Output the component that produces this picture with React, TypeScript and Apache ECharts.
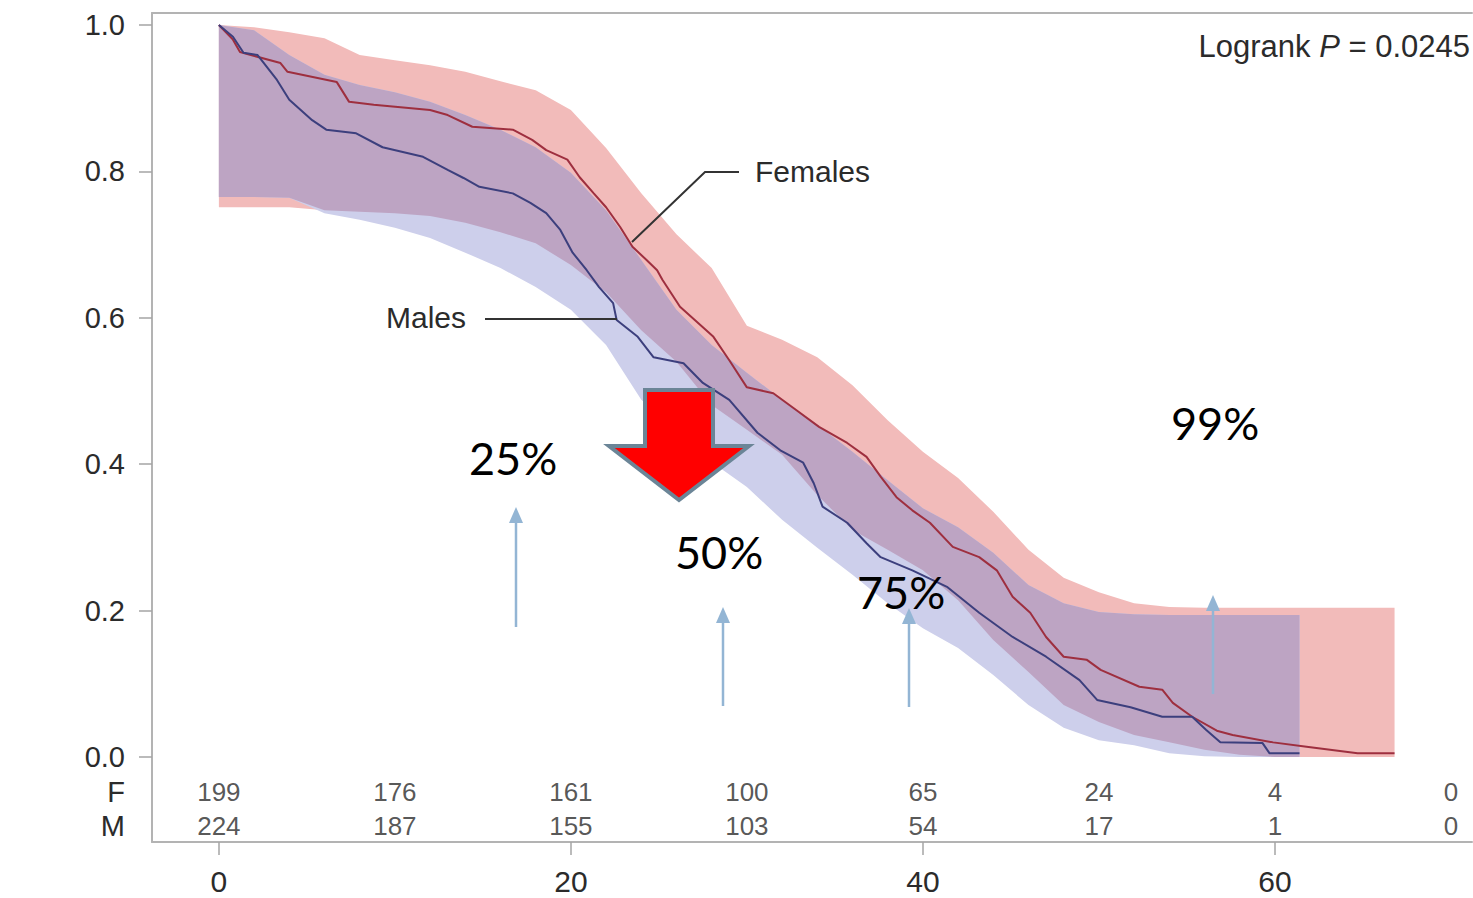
import React, { useEffect, useRef } from "react";
import * as echarts from "echarts";

// ---- data ----
const X_TICKS = [0, 20, 40, 60];
const Y_TICKS = [0, 0.2, 0.4, 0.6, 0.8, 1.0];

// confidence bands on a common time grid (months)
const BAND_T = [0, 2, 4, 6, 8, 10, 12, 14, 16, 18, 20, 22, 24, 26, 28, 30, 32, 34, 36, 38, 40, 42, 44, 46, 48, 50, 52, 54, 56, 58, 60, 61.4, 62, 64, 66, 66.8];
const F_UPPER = [1.0, 0.997, 0.99, 0.982, 0.959, 0.952, 0.945, 0.936, 0.923, 0.911, 0.884, 0.832, 0.77, 0.714, 0.668, 0.589, 0.57, 0.546, 0.508, 0.46, 0.417, 0.381, 0.335, 0.283, 0.245, 0.225, 0.21, 0.205, 0.204, 0.204, 0.204, 0.204, 0.204, 0.204, 0.204, 0.204];
const F_LOWER = [0.751, 0.751, 0.751, 0.747, 0.745, 0.743, 0.739, 0.73, 0.717, 0.702, 0.672, 0.635, 0.583, 0.54, 0.481, 0.447, 0.413, 0.358, 0.31, 0.283, 0.255, 0.214, 0.16, 0.116, 0.071, 0.048, 0.03, 0.02, 0.01, 0.003, 0, 0, 0, 0, 0, 0];
const M_UPPER = [1.0, 0.993, 0.959, 0.932, 0.918, 0.908, 0.895, 0.877, 0.857, 0.833, 0.798, 0.747, 0.679, 0.611, 0.563, 0.525, 0.488, 0.454, 0.417, 0.378, 0.34, 0.314, 0.279, 0.235, 0.21, 0.198, 0.195, 0.194, 0.194, 0.194, 0.194, 0.194];
const M_LOWER = [0.765, 0.765, 0.764, 0.743, 0.734, 0.723, 0.709, 0.689, 0.668, 0.642, 0.611, 0.563, 0.488, 0.447, 0.403, 0.369, 0.324, 0.286, 0.249, 0.21, 0.176, 0.149, 0.112, 0.071, 0.04, 0.023, 0.016, 0.005, 0.001, 0, 0, 0];

// survival curves
const F_T = [0, 0.8, 1.2, 3.5, 3.9, 6.7, 7.4, 8.8, 12.0, 13.0, 14.4, 16.7, 17.8, 18.6, 19.8, 20.5, 21.3, 22.0, 22.8, 23.5, 24.3, 24.9, 25.2, 26.2, 27.5, 28.1, 29.0, 30.0, 31.5, 32.8, 34.1, 35.7, 36.8, 37.6, 38.5, 39.4, 40.4, 41.7, 43.2, 44.2, 45.1, 46.1, 47.0, 48.0, 49.3, 50.1, 52.3, 53.6, 54.2, 55.3, 56.7, 57.6, 59.9, 61.8, 64.7, 66.8];
const F_S = [1.0, 0.98, 0.963, 0.948, 0.936, 0.922, 0.895, 0.891, 0.884, 0.877, 0.861, 0.857, 0.843, 0.829, 0.816, 0.792, 0.77, 0.751, 0.724, 0.697, 0.679, 0.665, 0.652, 0.615, 0.587, 0.574, 0.542, 0.505, 0.497, 0.474, 0.451, 0.429, 0.41, 0.383, 0.355, 0.337, 0.32, 0.287, 0.273, 0.255, 0.219, 0.197, 0.164, 0.137, 0.133, 0.119, 0.096, 0.092, 0.074, 0.055, 0.036, 0.03, 0.02, 0.014, 0.005, 0.005];
const M_T = [0, 0.8, 1.4, 2.2, 3.3, 4.0, 5.3, 6.1, 7.8, 9.3, 11.6, 13.0, 13.9, 14.8, 16.7, 17.7, 18.6, 19.4, 20.1, 20.9, 21.6, 22.4, 22.6, 23.8, 24.7, 26.4, 27.5, 29.0, 30.6, 31.9, 33.2, 33.8, 34.3, 35.7, 36.8, 37.6, 39.4, 41.4, 43.2, 45.1, 47.0, 48.9, 49.9, 51.8, 53.6, 55.3, 56.1, 56.9, 59.3, 59.7, 61.4];
const M_S = [1.0, 0.984, 0.962, 0.959, 0.925, 0.898, 0.87, 0.857, 0.852, 0.833, 0.82, 0.802, 0.791, 0.779, 0.77, 0.757, 0.743, 0.72, 0.689, 0.665, 0.642, 0.62, 0.597, 0.574, 0.546, 0.538, 0.511, 0.488, 0.443, 0.419, 0.402, 0.374, 0.342, 0.32, 0.292, 0.273, 0.255, 0.232, 0.197, 0.164, 0.137, 0.105, 0.078, 0.068, 0.055, 0.055, 0.037, 0.02, 0.019, 0.005, 0.005];

// number at risk
const RISK_T = [0, 10, 20, 30, 40, 50, 60, 70];
const RISK_F = [199, 176, 161, 100, 65, 24, 4, 0];
const RISK_M = [224, 187, 155, 103, 54, 17, 1, 0];
const ROW_F = -0.048;
const ROW_M = -0.094;

const SANS = "Liberation Sans";
const TXT = "#2b2b2b";

function bandSeries(times: number[], upper: number[], lower: number[], fill: string) {
  return {
    type: "custom",
    silent: true,
    z: 1,
    data: [[0, 0]],
    renderItem: (_p: any, api: any) => {
      const pts: number[][] = [];
      for (let i = 0; i < times.length; i++) pts.push(api.coord([times[i], upper[i]]));
      for (let i = times.length - 1; i >= 0; i--) pts.push(api.coord([times[i], lower[i]]));
      return { type: "polygon", shape: { points: pts }, style: { fill } };
    },
  };
}

function blueArrow(x: number, tip: number, bottom: number) {
  const c = "#93b5d4";
  return [
    { type: "line", z: 20, shape: { x1: x, y1: tip + 12, x2: x, y2: bottom }, style: { stroke: c, lineWidth: 2.5 } },
    { type: "polygon", z: 20, shape: { points: [[x - 7, tip + 16], [x, tip], [x + 7, tip + 16]] }, style: { fill: c } },
  ];
}

function pct(text: string, x: number, y: number) {
  return {
    type: "text",
    z: 20,
    x,
    y,
    style: {
      text,
      fontSize: 45,
      fontFamily: "Lato",
      fill: "#000",
      align: "left",
      verticalAlign: "middle",
      textAlign: "left",
      textVerticalAlign: "middle",
    },
  };
}

export default function App() {
  const ref = useRef<HTMLDivElement>(null);
  useEffect(() => {
    document.body.style.margin = "0";
    if (!ref.current) return;
    const chart = echarts.init(ref.current, null, { renderer: "svg" });

    const mTimes = BAND_T.slice(0, M_UPPER.length);
    const oUpper: number[] = [];
    const oLower: number[] = [];
    for (let i = 0; i < mTimes.length; i++) {
      const lo = Math.max(F_LOWER[i], M_LOWER[i]);
      const hi = Math.max(Math.min(F_UPPER[i], M_UPPER[i]), lo);
      oUpper.push(hi);
      oLower.push(lo);
    }

    const axisLineStyle = { color: "#b3b3b3", width: 2 };
    const option: any = {
      animation: false,
      backgroundColor: "#ffffff",
      grid: { left: 152, right: 1, top: 13, bottom: 56, containLabel: false },
      xAxis: [
        {
          type: "value",
          min: -3.8,
          max: 71.2,
          position: "bottom",
          axisLine: { show: true, onZero: false, lineStyle: axisLineStyle },
          axisTick: { show: true, customValues: X_TICKS, length: 13, lineStyle: { color: "#a5a5a5", width: 1.5 } },
          axisLabel: { customValues: X_TICKS, fontSize: 30, color: TXT, fontFamily: SANS, margin: 24 },
          splitLine: { show: false },
        },
        {
          type: "value",
          min: -3.8,
          max: 71.2,
          position: "top",
          axisLine: { show: true, onZero: false, lineStyle: axisLineStyle },
          axisTick: { show: false },
          axisLabel: { show: false },
          splitLine: { show: false },
        },
      ],
      yAxis: {
        type: "value",
        min: -0.1161,
        max: 1.0164,
        axisLine: { show: true, onZero: false, lineStyle: axisLineStyle },
        axisTick: { show: true, customValues: Y_TICKS, length: 13, lineStyle: { color: "#a5a5a5", width: 1.5 } },
        axisLabel: {
          customValues: [...Y_TICKS, ROW_F, ROW_M],
          fontSize: 29,
          color: TXT,
          fontFamily: SANS,
          margin: 27,
          formatter: (v: number) => (v < -0.07 ? "M" : v < 0 ? "F" : v.toFixed(1)),
        },
        splitLine: { show: false },
      },
      series: [
        bandSeries(BAND_T, F_UPPER, F_LOWER, "#f2bbba"),
        bandSeries(mTimes, M_UPPER, M_LOWER, "#cdcfeb"),
        bandSeries(mTimes, oUpper, oLower, "#bda4c3"),
        {
          type: "line",
          z: 3,
          silent: true,
          showSymbol: false,
          data: F_T.map((t, i) => [t, F_S[i]]),
          lineStyle: { color: "#9e2f3f", width: 2 },
        },
        {
          type: "line",
          z: 3,
          silent: true,
          showSymbol: false,
          data: M_T.map((t, i) => [t, M_S[i]]),
          lineStyle: { color: "#3c3f7d", width: 2 },
        },
        {
          type: "scatter",
          z: 4,
          silent: true,
          symbolSize: 1,
          itemStyle: { color: "rgba(0,0,0,0)" },
          data: [
            ...RISK_T.map((t, i) => [t, ROW_F, RISK_F[i]]),
            ...RISK_T.map((t, i) => [t, ROW_M, RISK_M[i]]),
          ],
          label: {
            show: true,
            position: "inside",
            formatter: (p: any) => String(p.value[2]),
            fontSize: 26,
            color: TXT,
            fontFamily: SANS,
          },
        },
      ],
      graphic: [
        {
          type: "text",
          z: 20,
          x: 1470,
          y: 46,
          style: {
            text: "Logrank {i|P} = 0.0245",
            fontSize: 31,
            fontFamily: SANS,
            fill: TXT,
            align: "right",
            verticalAlign: "middle",
            textAlign: "right",
            textVerticalAlign: "middle",
            rich: { i: { fontStyle: "italic", fontSize: 31, fontFamily: SANS, fill: TXT } },
          },
        },
        {
          type: "text",
          z: 20,
          x: 755,
          y: 171,
          style: { text: "Females", fontSize: 30, fontFamily: SANS, fill: TXT, verticalAlign: "middle", textVerticalAlign: "middle" },
        },
        {
          type: "polyline",
          z: 20,
          shape: { points: [[739, 172], [705, 172], [632, 242]] },
          style: { stroke: "#333", lineWidth: 2, fill: null },
        },
        {
          type: "text",
          z: 20,
          x: 386,
          y: 317,
          style: { text: "Males", fontSize: 30, fontFamily: SANS, fill: TXT, verticalAlign: "middle", textVerticalAlign: "middle" },
        },
        {
          type: "line",
          z: 20,
          shape: { x1: 485, y1: 319, x2: 617, y2: 319 },
          style: { stroke: "#333", lineWidth: 2 },
        },
        pct("25%", 469, 458),
        pct("50%", 675, 552),
        pct("75%", 857, 592),
        pct("99%", 1171, 423),
        ...blueArrow(516, 507, 627),
        ...blueArrow(723, 607, 706),
        ...blueArrow(909, 608, 707),
        ...blueArrow(1213, 595, 694),
        {
          type: "polygon",
          z: 21,
          shape: {
            points: [[645, 390], [713, 390], [713, 446], [749, 446], [679, 500], [609, 446], [645, 446]],
          },
          style: { fill: "#ff0000", stroke: "#6b8597", lineWidth: 4, lineJoin: "miter" },
        },
      ],
    };
    chart.setOption(option);
    return () => chart.dispose();
  }, []);
  return <div ref={ref} style={{ width: 1473, height: 898 }} />;
}
